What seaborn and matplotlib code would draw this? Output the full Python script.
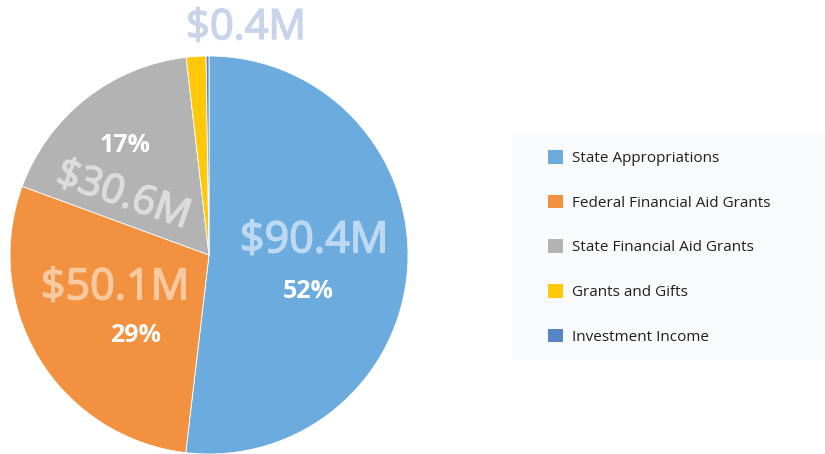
import matplotlib
matplotlib.use("Agg")
import matplotlib.pyplot as plt
import matplotlib.patches as mpatches
import matplotlib.patheffects as pe
import seaborn as sns

sources = ["State Appropriations", "Federal Financial Aid Grants",
           "State Financial Aid Grants", "Grants and Gifts", "Investment Income"]
amounts = [90.4, 50.1, 30.6, 2.8, 0.4]
money_labels = ["$90.4M", "$50.1M", "$30.6M", "", "$0.4M"]
pct_labels = ["52%", "29%", "17%", "", ""]
colors = ["#6CABDD", "#F29240", "#B3B3B3", "#FFC90A", "#5585C5"]

sns.set_theme(style="white")
plt.rcParams["font.family"] = ["Open Sans", "DejaVu Sans"]

W, H = 825, 454
fig = plt.figure(figsize=(W / 100, H / 100), dpi=100)

# pie centre (209, 255) px, radius 199 px
cx, cy, r = 209, 255, 199
ax = fig.add_axes([(cx - r) / W, (H - cy - r) / H, 2 * r / W, 2 * r / H])
wedges, _ = ax.pie(amounts, colors=colors, startangle=90, counterclock=False,
                   radius=1, wedgeprops=dict(edgecolor="white", linewidth=0.6))
ax.set_xlim(-1, 1)
ax.set_ylim(-1, 1)
ax.set_aspect("equal")
ax.axis("off")


def px(x, y):
    return (x - cx) / r, (cy - y) / r


def money(x, y, s, c, size, rot=0):
    ax.text(*px(x, y), s, color=c, fontsize=size, ha="center", va="center",
            rotation=rot, clip_on=False,
            path_effects=[pe.withStroke(linewidth=1.1, foreground=c)])


# big amount labels
money(314, 241, money_labels[0], "#BCD9F1", 31)
money(115, 288, money_labels[1], "#F9C9A0", 31)
money(123, 196, money_labels[2], "#DCDCDC", 29, rot=-19)
money(246, 28, money_labels[4], "#C9D3E9", 30)

# percentages
for (x, y), s in zip([(308, 291), (136, 336), (125, 146)], pct_labels[:3]):
    ax.text(*px(x, y), s, color="white", fontsize=18, fontweight="bold",
            ha="center", va="center")

# legend background
fig.patches.append(mpatches.Rectangle((512 / W, (H - 360) / H), (W - 512) / W,
                                      (360 - 133) / H, transform=fig.transFigure,
                                      facecolor="#F9FAFB", edgecolor="none", zorder=0))
handles = [mpatches.Patch(facecolor=c, edgecolor="none") for c in colors]
fig.legend(handles, sources, loc="upper left", bbox_to_anchor=(548 / W, 1 - 150 / H),
           frameon=False, fontsize=11, handlelength=1.0, handleheight=1.0,
           handletextpad=0.55, labelspacing=1.87, borderpad=0, borderaxespad=0,
           labelcolor="#231F20")

fig.savefig("out.png", dpi=100)
